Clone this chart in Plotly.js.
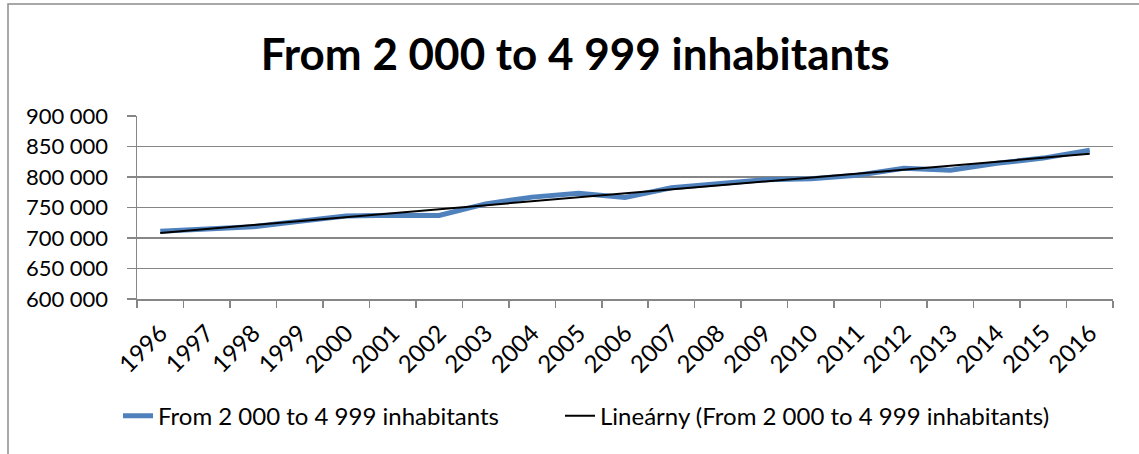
<!DOCTYPE html>
<html>
<head>
<meta charset="utf-8">
<script src="https://cdn.plot.ly/plotly-3.0.1.min.js"></script>
<style>
  html, body { margin: 0; padding: 0; background: #ffffff; }
  #chart { width: 1139px; height: 454px; }
</style>
</head>
<body>
<div id="chart"></div>
<script>
const years = ["1996","1997","1998","1999","2000","2001","2002","2003","2004","2005","2006","2007","2008","2009","2010","2011","2012","2013","2014","2015","2016"];
const population = [711000, 715500, 718500, 727500, 736000, 737500, 737000, 756000, 767000, 773500, 766500, 782500, 789500, 795500, 797000, 803000, 814500, 811000, 822500, 831000, 844000];
const seriesName = "From 2 000 to 4 999 inhabitants";
const trendName = "Lineárny (From 2 000 to 4 999 inhabitants)";
const yTicks = [600000, 650000, 700000, 750000, 800000, 850000, 900000];
const yTickText = ["600 000", "650 000", "700 000", "750 000", "800 000", "850 000", "900 000"];

// Linear trend line (least squares) computed from the series
const n = population.length;
const idx = population.map((_, i) => i + 1);
const mx = idx.reduce((a, b) => a + b, 0) / n;
const my = population.reduce((a, b) => a + b, 0) / n;
let sxy = 0, sxx = 0;
for (let i = 0; i < n; i++) { sxy += (idx[i] - mx) * (population[i] - my); sxx += (idx[i] - mx) ** 2; }
const slope = sxy / sxx;
const icpt = my - slope * mx;
const trend = idx.map(x => icpt + slope * x);

const font = "Lato, 'Open Sans', sans-serif";

const data = [
  { x: years, y: population, type: "scatter", mode: "lines", name: seriesName,
    line: { color: "#4F81BD", width: 5 }, legend: "legend" },
  { x: years, y: trend, type: "scatter", mode: "lines", name: trendName,
    line: { color: "#000000", width: 2 }, legend: "legend2" }
];

const legendBase = { orientation: "h", xanchor: "left", y: -0.64, yanchor: "middle",
                     font: { family: font, size: 24, color: "#000000" }, itemwidth: 30 };

const layout = {
  width: 1139, height: 454,
  paper_bgcolor: "#ffffff", plot_bgcolor: "#ffffff",
  margin: { l: 137, r: 26, t: 116, b: 155 },
  showlegend: true,
  title: { text: "<b>From 2 000 to 4 999 inhabitants</b>", x: 0.505, xanchor: "center", y: 0.88, yanchor: "middle",
           font: { family: font, size: 44, color: "#000000" } },
  xaxis: {
    type: "category", range: [-0.5, 20.5],
    tickson: "boundaries", ticks: "outside", ticklen: 7, tickwidth: 1.5, tickcolor: "#868686",
    showline: true, linecolor: "#868686", linewidth: 1.5,
    showgrid: false, tickangle: -45, ticklabelstandoff: 9,
    tickfont: { family: font, size: 24, color: "#000000" }
  },
  yaxis: {
    range: [600000, 900000], tickvals: yTicks, ticktext: yTickText,
    ticks: "outside", ticklen: 9, tickwidth: 1.5, tickcolor: "#868686",
    showline: true, linecolor: "#868686", linewidth: 1.5,
    showgrid: true, gridcolor: "#868686", gridwidth: 1.5, zeroline: false,
    ticklabelstandoff: 14,
    tickfont: { family: font, size: 22, color: "#000000" }
  },
  legend: Object.assign({}, legendBase, { x: (118 - 137) / 976 }),
  legend2: Object.assign({}, legendBase, { x: (560 - 137) / 976 }),
  shapes: [
    { type: "rect", xref: "paper", yref: "paper", x0: -129/976, x1: 1.2, y0: -1.5, y1: 1 + 112/183,
      line: { color: "#8c8c8c", width: 1.5 }, fillcolor: "rgba(0,0,0,0)", layer: "below" }
  ]
};

Plotly.newPlot("chart", data, layout, { displayModeBar: false, staticPlot: true });
</script>
</body>
</html>
